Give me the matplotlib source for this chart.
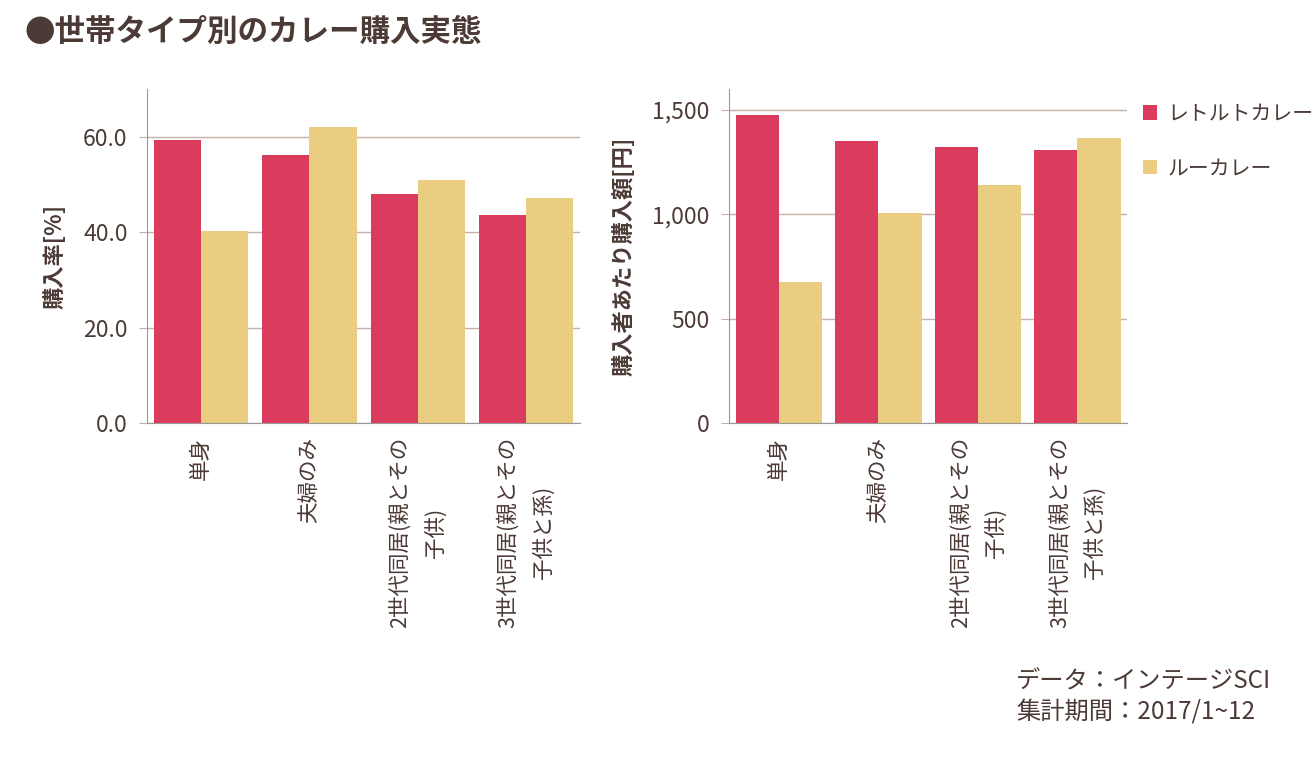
import numpy as np
import matplotlib.pyplot as plt
from matplotlib.ticker import FuncFormatter

plt.rcParams['font.family'] = ['Noto Sans CJK JP', 'DejaVu Sans']

# data
categories = ['単身', '夫婦のみ', '2世代同居(親とその\n子供)', '3世代同居(親とその\n子供と孫)']
series_names = ['レトルトカレー', 'ルーカレー']
rate_retort = [59.4, 56.2, 48.1, 43.7]
rate_roux = [40.3, 62.1, 51.0, 47.2]
amount_retort = [1477, 1353, 1324, 1310]
amount_roux = [677, 1008, 1142, 1367]

red = '#DB3B5D'
yellow = '#EACD80'
text_c = '#4B3A35'
grid_c = '#C4B0A8'
spine_c = '#999999'

fig = plt.figure(figsize=(13.13, 7.59), dpi=100)
ax1 = fig.add_axes([0.112, 0.4427, 0.3298, 0.44])
ax2 = fig.add_axes([0.5553, 0.4427, 0.3031, 0.44])

x = np.arange(len(categories))
w = 0.435


def style(ax, ylim, ticks, fmt, ylabel):
    ax.set_xlim(-0.5, len(categories) - 0.5)
    ax.set_ylim(*ylim)
    ax.set_yticks(ticks)
    ax.yaxis.set_major_formatter(FuncFormatter(fmt))
    ax.grid(axis='y', color=grid_c, linewidth=1)
    ax.set_axisbelow(True)
    for s in ['top', 'right']:
        ax.spines[s].set_visible(False)
    for s in ['left', 'bottom']:
        ax.spines[s].set_color(spine_c)
    ax.tick_params(axis='y', length=6, color=grid_c, labelsize=16.5,
                   labelcolor=text_c, pad=8)
    ax.tick_params(axis='x', length=0, labelsize=15.5, labelcolor=text_c, pad=10)
    ax.set_xticks(x)
    ax.set_xticklabels(categories, rotation=90, ha='center', va='top',
                       multialignment='center', linespacing=1.75)
    ax.set_ylabel(ylabel, fontsize=16, fontweight='bold', color=text_c)


b1 = ax1.bar(x - w / 2, rate_retort, w, color=red, label=series_names[0])
b2 = ax1.bar(x + w / 2, rate_roux, w, color=yellow, label=series_names[1])
style(ax1, (0, 70), [0, 20, 40, 60], lambda v, p: f'{v:.1f}', '購入率[%]')
ax1.yaxis.labelpad = 12

ax2.bar(x - w / 2, amount_retort, w, color=red)
ax2.bar(x + w / 2, amount_roux, w, color=yellow)
style(ax2, (0, 1600), [0, 500, 1000, 1500], lambda v, p: f'{v:,.0f}',
      '購入者あたり購入額[円]')
ax2.yaxis.labelpad = 12

fig.legend(handles=[b1, b2], loc='upper left', bbox_to_anchor=(0.856, 0.889),
           frameon=False, fontsize=15, labelcolor=text_c, handlelength=0.7,
           handleheight=0.7, handletextpad=0.5, labelspacing=1.55)

fig.text(0.019, 0.958, '●世帯タイプ別のカレー購入実態', fontsize=22,
         fontweight='bold', color=text_c, va='center', ha='left')

fig.text(0.774, 0.083, 'データ：インテージSCI\n集計期間：2017/1~12', fontsize=17.5,
         color=text_c, ha='left', va='center', linespacing=1.2)

plt.savefig('out.png', dpi=100)
